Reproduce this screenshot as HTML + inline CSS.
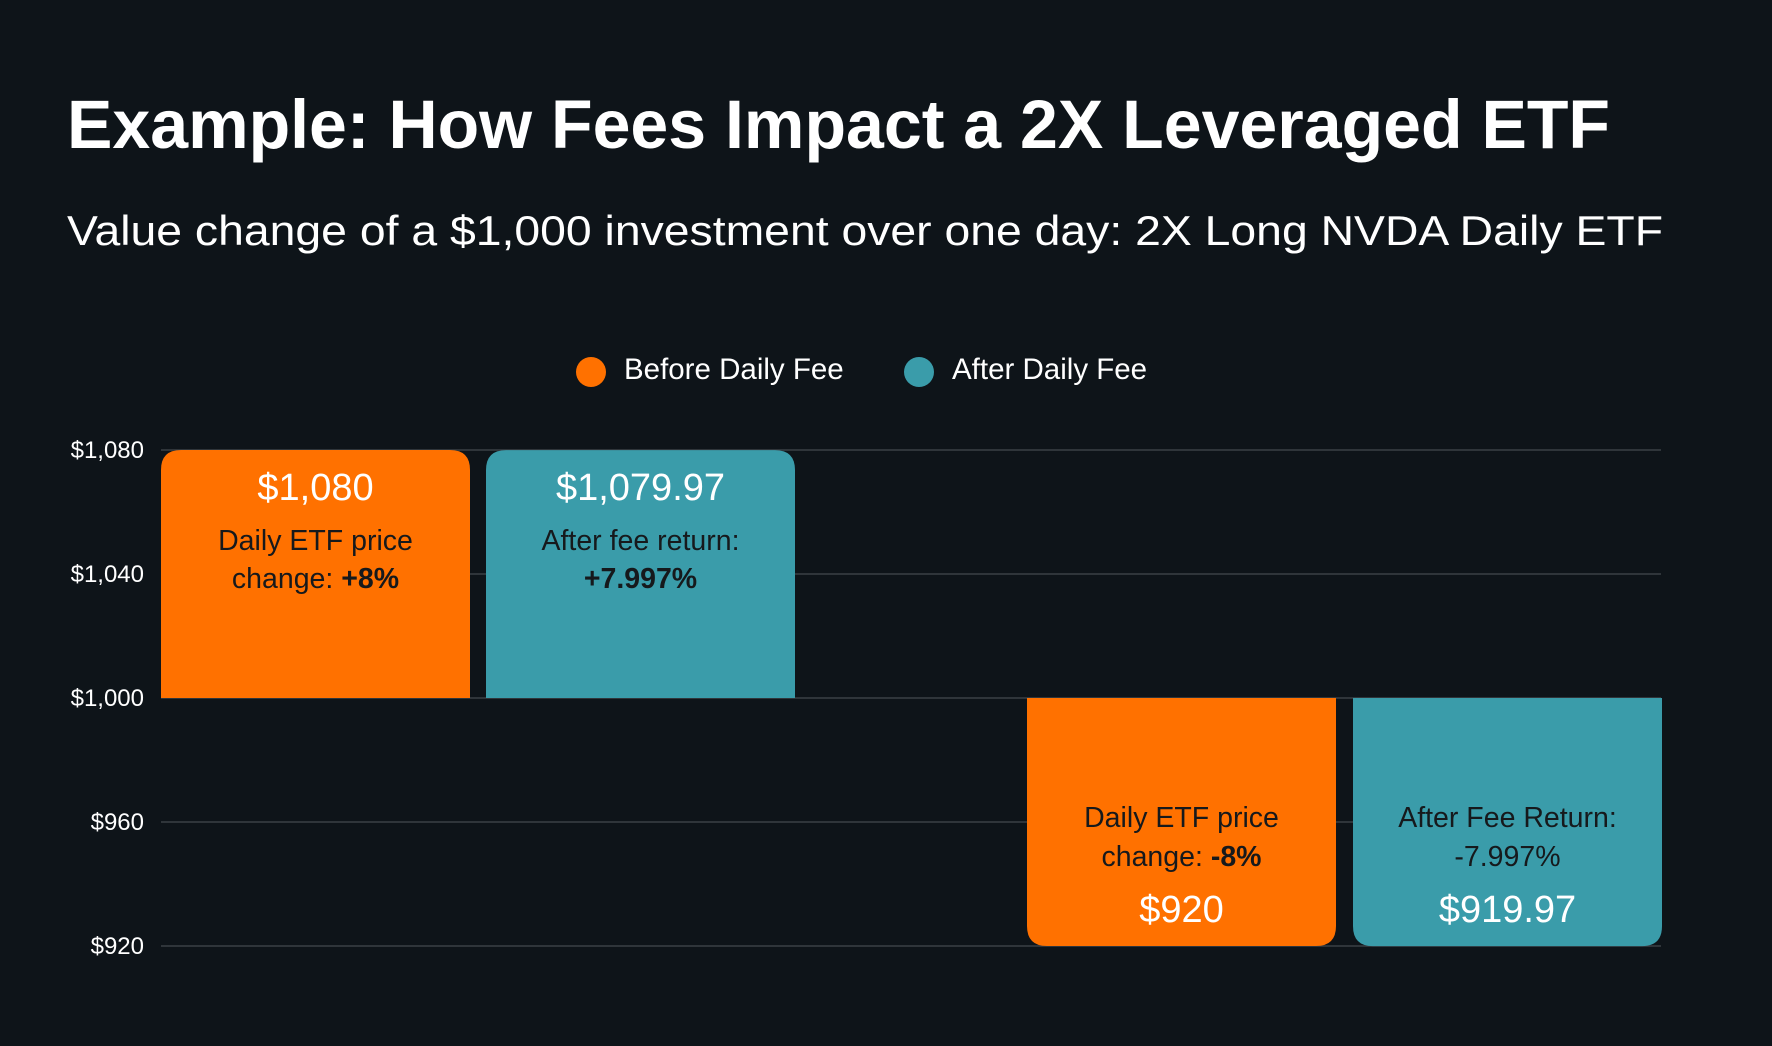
<!DOCTYPE html>
<html><head><meta charset="utf-8"><style>
html,body{margin:0;padding:0;background:#0e1419;}
svg{display:block;font-family:"Liberation Sans",sans-serif;}
</style></head><body>
<svg id="chart" width="1772" height="1046" viewBox="0 0 1772 1046" xmlns="http://www.w3.org/2000/svg">
<rect width="1772" height="1046" fill="#0e1419"/>
<text x="67" y="148" font-size="69" font-weight="bold" fill="#fff" textLength="1543" lengthAdjust="spacingAndGlyphs">Example: How Fees Impact a 2X Leveraged ETF</text>
<text x="67" y="245" font-size="42" fill="#fff" textLength="1596" lengthAdjust="spacingAndGlyphs">Value change of a $1,000 investment over one day: 2X Long NVDA Daily ETF</text>
<g>
<g>
<circle cx="591" cy="372" r="15" fill="#ff7100"/>
<text x="624" y="379" font-size="29.5" fill="#fff">Before Daily Fee</text>
</g>
<g>
<circle cx="919" cy="372" r="15" fill="#3a9caa"/>
<text x="952" y="379" font-size="29.5" fill="#fff">After Daily Fee</text>
</g>
</g>
<g id="grid"></g>
<g id="bars"></g>
</svg>
<script>
const ticks = [920, 960, 1000, 1040, 1080];
const tickLabels = ["$920", "$960", "$1,000", "$1,040", "$1,080"];
const categories = ["up-before", "up-after", "down-before", "down-after"];
const values = [1080, 1079.97, 920, 919.97];
const valueLabels = ["$1,080", "$1,079.97", "$920", "$919.97"];
const line1 = ["Daily ETF price", "After fee return:", "Daily ETF price", "After Fee Return:"];
const line2a = ["change: ", "", "change: ", "-7.997%"];
const line2b = ["+8%", "+7.997%", "-8%", ""];
const series = ["before", "after", "before", "after"];

const NS = "http://www.w3.org/2000/svg";
const plotL = 161, plotR = 1661, yTop = 450, yBot = 946, vMin = 920, vMax = 1080, base = 1000;
function y(v){ return yBot - (v - vMin) / (vMax - vMin) * (yBot - yTop); }
const slotStarts = [161, 486, 1027, 1353];
const barW = 309, rad = 20;
function x(i){ return slotStarts[i]; }
const colors = {before:"#ff7100", after:"#3a9caa"};

const grid = document.getElementById("grid");
ticks.forEach((t, i) => {
  const l = document.createElementNS(NS, "line");
  l.setAttribute("x1", plotL); l.setAttribute("x2", plotR);
  l.setAttribute("y1", y(t)); l.setAttribute("y2", y(t));
  l.setAttribute("stroke", "#3a4046"); l.setAttribute("stroke-width", "1.5");
  
  
  grid.appendChild(l);
  const tx = document.createElementNS(NS, "text");
  tx.setAttribute("x", 144); tx.setAttribute("y", y(t) + 8);
  tx.setAttribute("text-anchor", "end"); tx.setAttribute("font-size", "24"); tx.setAttribute("fill", "#fff");
  tx.textContent = tickLabels[i];
  
  
  grid.appendChild(tx);
});

const bars = document.getElementById("bars");
function mkText(str, xx, yy, size, fill, weight){
  const t = document.createElementNS(NS, "text");
  t.setAttribute("x", xx); t.setAttribute("y", yy);
  t.setAttribute("text-anchor", "middle"); t.setAttribute("font-size", size);
  t.setAttribute("fill", fill);
  if (weight) t.setAttribute("font-weight", weight);
  t.textContent = str;
  return t;
}
values.forEach((v, i) => {
  const x0 = x(i), x1 = x0 + barW, cx = x0 + barW / 2;
  const y0 = y(base), y1 = y(v);
  const up = v >= base;
  const g = document.createElementNS(NS, "g");
  
  
  const p = document.createElementNS(NS, "path");
  let d;
  if (up) {
    d = `M${x0},${y0} L${x0},${y1+rad} Q${x0},${y1} ${x0+rad},${y1} L${x1-rad},${y1} Q${x1},${y1} ${x1},${y1+rad} L${x1},${y0} Z`;
  } else {
    d = `M${x0},${y0} L${x0},${y1-rad} Q${x0},${y1} ${x0+rad},${y1} L${x1-rad},${y1} Q${x1},${y1} ${x1},${y1-rad} L${x1},${y0} Z`;
  }
  p.setAttribute("d", d); p.setAttribute("fill", colors[series[i]]);
  
  
  g.appendChild(p);
  let yv, ya, yb;
  if (up) { yv = y1 + 50; ya = y1 + 100; yb = y1 + 138; }
  else { yv = y1 - 24; ya = y1 - 119; yb = y1 - 80; }
  const tv = mkText(valueLabels[i], cx, yv, 38, "#fff");
  
  
  g.appendChild(tv);
  const ta = mkText(line1[i], cx, ya, 28.5, "#16191c");
  
  
  g.appendChild(ta);
  const tb = mkText("", cx, yb, 28.5, "#16191c");
  
  
  if (line2a[i]) { const s = document.createElementNS(NS, "tspan"); s.textContent = line2a[i]; tb.appendChild(s); }
  if (line2b[i]) { const s = document.createElementNS(NS, "tspan"); s.setAttribute("font-weight", "bold"); s.textContent = line2b[i]; tb.appendChild(s); }
  g.appendChild(tb);
  bars.appendChild(g);
});
</script>
</body></html>
